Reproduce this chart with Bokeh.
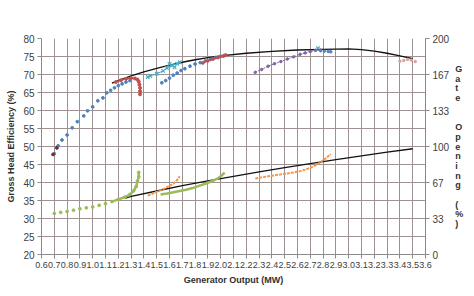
from bokeh.plotting import figure
from bokeh.models import Range1d, LinearAxis, FixedTicker, NumeralTickFormatter
from bokeh.embed import file_html
from bokeh.resources import INLINE
import numpy as np

# ---------------- data ----------------
# Efficiency (left axis, %)
eff_fit_mw = [1.15, 1.2, 1.3, 1.4, 1.5, 1.6, 1.7, 1.8, 1.9, 2.0, 2.2, 2.4, 2.6, 2.8, 3.0, 3.1, 3.2, 3.3, 3.4, 3.5]
eff_fit = [67.6, 68.3, 69.6, 70.7, 71.7, 72.6, 73.4, 74.1, 74.7, 75.2, 75.9, 76.4, 76.8, 77.0, 77.1, 76.9, 76.5, 75.9, 75.2, 74.4]

start_mw = [0.69, 0.72]
start_eff = [47.8, 49.6]

blue1_mw = [0.70, 0.73, 0.76, 0.80, 0.84, 0.88, 0.93, 0.96, 1.00, 1.04, 1.08, 1.11, 1.14, 1.17, 1.20, 1.23, 1.26, 1.29]
blue1_eff = [48.0, 50.2, 51.8, 53.2, 55.2, 56.9, 58.5, 59.9, 61.0, 62.7, 63.5, 64.9, 65.6, 66.3, 66.9, 67.4, 67.9, 68.3]

red1_mw = [1.18, 1.22, 1.26, 1.30, 1.33, 1.35, 1.36, 1.365, 1.37, 1.37, 1.37]
red1_eff = [67.9, 68.4, 68.8, 69.0, 68.9, 68.6, 68.0, 67.2, 66.3, 65.4, 64.5]

teal_mw = [1.43, 1.45, 1.50, 1.55, 1.58, 1.62, 1.66, 1.68, 1.64, 1.60, 2.76]
teal_eff = [69.3, 69.6, 70.2, 71.0, 71.8, 72.5, 73.0, 73.4, 72.0, 72.9, 77.3]

blue2_mw = [1.54, 1.57, 1.60, 1.63, 1.66, 1.69, 1.72, 1.76, 1.80, 1.84, 1.88, 1.92, 1.96, 2.00, 2.03]
blue2_eff = [67.7, 68.3, 69.0, 69.8, 70.4, 71.1, 71.6, 72.3, 72.9, 73.3, 73.8, 74.2, 74.7, 75.1, 75.3]

red2_mw = [1.86, 1.90, 1.94, 1.98, 2.02, 2.04]
red2_eff = [73.2, 73.8, 74.3, 74.7, 75.1, 75.4]

purple_mw = [2.27, 2.32, 2.37, 2.42, 2.47, 2.52, 2.57, 2.62, 2.66, 2.70, 2.74, 2.78]
purple_eff = [70.6, 71.4, 72.3, 73.0, 73.6, 74.3, 74.9, 75.6, 76.0, 76.4, 76.7, 76.8]

blue3_mw = [2.78, 2.81, 2.84, 2.86]
blue3_eff = [76.6, 76.5, 76.4, 76.3]

pink_mw = [3.40, 3.43, 3.46, 3.49, 3.52]
pink_eff = [73.7, 73.9, 74.2, 74.0, 73.6]

# Gate opening (right axis, %)
gate_fit_mw = [1.25, 1.3, 1.5, 1.7, 1.9, 2.1, 2.3, 2.5, 2.7, 2.9, 3.1, 3.3, 3.5]
gate_fit = [52.0, 53.8, 58.8, 63.7, 68.2, 72.4, 76.5, 80.4, 84.2, 87.8, 91.3, 94.7, 97.9]

green1_mw = [0.70, 0.75, 0.80, 0.85, 0.90, 0.95, 1.00, 1.05, 1.10, 1.15, 1.20, 1.25, 1.29, 1.32, 1.34, 1.35, 1.36, 1.36]
green1_gate = [38.0, 39.0, 39.8, 41.0, 42.3, 43.2, 44.0, 45.5, 47.0, 49.0, 51.0, 53.0, 55.5, 59.0, 63.0, 68.0, 72.0, 76.0]

green2_mw = [1.53, 1.58, 1.63, 1.68, 1.73, 1.78, 1.83, 1.88, 1.93, 1.97, 2.00, 2.02, 2.03]
green2_gate = [55.6, 56.5, 57.6, 58.8, 60.0, 61.5, 63.5, 65.5, 67.8, 70.0, 72.5, 74.5, 76.0]

orange1_mw = [1.43, 1.47, 1.51, 1.55, 1.59, 1.63, 1.66, 1.68]
orange1_gate = [54.5, 56.5, 58.5, 60.5, 63.0, 65.5, 69.0, 72.5]

orange2_mw = [2.27, 2.32, 2.37, 2.42, 2.47, 2.52, 2.57, 2.62, 2.66, 2.70, 2.74, 2.78, 2.82, 2.86]
orange2_gate = [70.4, 71.4, 72.4, 73.3, 74.2, 75.1, 76.0, 77.2, 78.6, 80.3, 82.5, 85.5, 89.0, 93.0]

x_ticks = [round(v, 1) for v in np.arange(0.6, 3.61, 0.1)]
y_ticks = [20, 25, 30, 35, 40, 45, 50, 55, 60, 65, 70, 75, 80]
gate_ticks = [0, 200 / 6, 400 / 6, 100, 800 / 6, 1000 / 6, 200]
gate_label = "G\na\nt\ne\n\n\nO\np\ne\nn\ni\nn\ng\n\n(\n%\n)"

# ---------------- figure ----------------
GRID = "#9f9191"
AX = "#8a8a8a"
FONT = "Liberation Sans"

p = figure(width=474, height=296, output_backend="svg", toolbar_location=None,
           x_range=Range1d(0.6, 3.6), y_range=Range1d(20, 80),
           min_border_left=41, min_border_right=49, min_border_top=38, min_border_bottom=42)
p.extra_y_ranges = {"gate": Range1d(0, 200)}
p.outline_line_color = None
p.background_fill_color = "white"
p.border_fill_color = "white"

p.xaxis.ticker = FixedTicker(ticks=x_ticks)
p.xaxis.formatter = NumeralTickFormatter(format="0.0")
p.yaxis.ticker = FixedTicker(ticks=y_ticks)

p.xgrid.ticker = FixedTicker(ticks=x_ticks)
p.ygrid.ticker = FixedTicker(ticks=y_ticks)
p.grid.grid_line_color = GRID
p.grid.grid_line_width = 1

right = LinearAxis(y_range_name="gate", ticker=FixedTicker(ticks=gate_ticks),
                   formatter=NumeralTickFormatter(format="0"))
p.add_layout(right, "right")

for ax in [p.xaxis[0], p.yaxis[0], right]:
    ax.axis_line_color = AX
    ax.major_tick_line_color = AX
    ax.major_tick_out = 4
    ax.major_tick_in = 0
    ax.minor_tick_line_color = None
    ax.major_label_text_font = FONT
    ax.major_label_text_color = "#404040"
    ax.major_label_standoff = 3

p.xaxis.major_label_text_font_size = "9px"
p.yaxis[0].major_label_text_font_size = "10px"
right.major_label_text_font_size = "10px"

p.xaxis.axis_label = "Generator Output (MW)"
p.yaxis[0].axis_label = "Gross Head Efficiency (%)"
right.axis_label = gate_label
right.axis_label_orientation = "horizontal"
right.axis_label_text_line_height = 0.97
right.axis_label_text_align = "center"
for ax in [p.xaxis[0], p.yaxis[0], right]:
    ax.axis_label_text_font = FONT
    ax.axis_label_text_font_size = "9px"
    ax.axis_label_text_font_style = "bold"
    ax.axis_label_text_color = "#303030"
    ax.axis_label_standoff = 4
right.axis_label_standoff = 3

BLUE = "#4f81bd"
RED = "#c0504d"
GREEN = "#9bbb59"
PURPLE = "#8064a2"
TEAL = "#4bacc6"
ORANGE = "#f79646"

# efficiency fitted curve
p.line(eff_fit_mw, eff_fit, line_color="#111111", line_width=1.3)
# efficiency measured
p.scatter(blue1_mw, blue1_eff, marker="circle", size=2.8, color=BLUE)
p.scatter(start_mw, start_eff, marker="circle", size=2.8, color="#7a2a2a")
p.line(red1_mw, red1_eff, line_color=RED, line_width=1.5)
p.scatter(red1_mw, red1_eff, marker="circle", size=3, color=RED)
p.line(teal_mw[:8], teal_eff[:8], line_color=TEAL, line_width=1)
p.scatter(teal_mw, teal_eff, marker="x", size=5, line_color=TEAL, line_width=1.2)
p.scatter(blue2_mw, blue2_eff, marker="circle", size=2.8, color=BLUE)
p.line(red2_mw, red2_eff, line_color=RED, line_width=1.5)
p.scatter(red2_mw, red2_eff, marker="circle", size=2.8, color=RED)
p.line(purple_mw, purple_eff, line_color=PURPLE, line_width=1, line_dash="2 1")
p.scatter(purple_mw, purple_eff, marker="circle", size=2.5, color=PURPLE)
p.scatter(blue3_mw, blue3_eff, marker="circle", size=2.5, color=BLUE)
p.scatter(pink_mw, pink_eff, marker="circle", size=2.5, color="#d9a0a0")

# gate opening fitted + measured
p.line(gate_fit_mw, gate_fit, line_color="#111111", line_width=1.3, y_range_name="gate")
p.scatter(green1_mw, green1_gate, marker="circle", size=2.8, color=GREEN, y_range_name="gate")
p.line(green1_mw[9:], green1_gate[9:], line_color=GREEN, line_width=2.5, y_range_name="gate")
p.line(green2_mw, green2_gate, line_color=GREEN, line_width=2.5, y_range_name="gate")
p.line(orange1_mw, orange1_gate, line_color=ORANGE, line_width=2, line_dash="3 1", y_range_name="gate")
p.line(orange2_mw, orange2_gate, line_color=ORANGE, line_width=2, line_dash="3 1", y_range_name="gate")

open("out.html", "w").write(file_html(p, INLINE))
